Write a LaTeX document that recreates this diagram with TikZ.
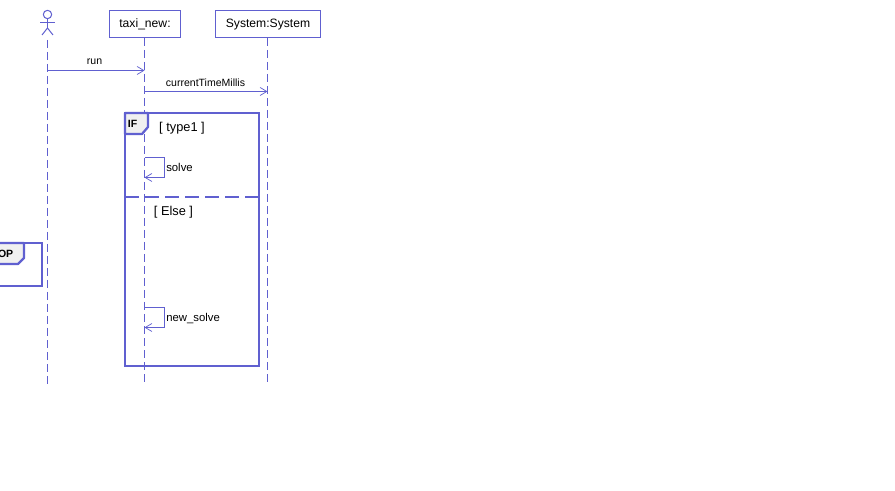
\documentclass[tikz,border=0pt]{standalone}
\usepackage{fontspec}
\setmainfont{Liberation Sans}
\usetikzlibrary{arrows.meta}
\definecolor{umlblue}{HTML}{6060D0}
\definecolor{tabfill}{HTML}{F0F0F0}
\tikzset{
  x=0.75pt,y=-0.75pt,
  lifebox/.style={draw=umlblue,line width=0.8pt,fill=white,inner sep=0pt,text=black,text height=6.8pt,text depth=2pt,font=\fontsize{9.1}{11}\selectfont},
  lifeline/.style={draw=umlblue,line width=1.1pt,dash pattern=on 6pt off 3pt},
  msg/.style={draw=umlblue,line width=0.8pt,-{Straight Barb[length=5pt,width=6pt,line width=0.55pt]}},
  msglabel/.style={inner sep=0pt,text=black,font=\fontsize{7.9}{10}\selectfont},
  selflabel/.style={inner sep=0pt,text=black,text height=6.2pt,text depth=1.8pt,font=\fontsize{8.5}{10}\selectfont},
  frameline/.style={draw=umlblue,line width=1.85pt},
  tabshape/.style={draw=umlblue,line width=1.7pt,fill=tabfill,line join=bevel},
  framelabel/.style={inner sep=0pt,text=black,font=\bfseries\fontsize{7.9}{10}\selectfont},
  guard/.style={inner sep=0pt,text=black,font=\fontsize{9.6}{11}\selectfont},
  actorline/.style={draw=umlblue,line width=0.75pt}
}
\begin{document}
\begin{tikzpicture}
\useasboundingbox (0,0) rectangle (895,491);
\clip (0,0) rectangle (895,491);
\fill[white] (0,0) rectangle (895,491);
% lifeline heads
\node[lifebox,minimum width=53pt,minimum height=20.25pt] (taxi) at (145,24) {taxi\_new:};
\node[lifebox,minimum width=78.75pt,minimum height=20.25pt] (system) at (268,24) {System:System};
% actor
\coordinate (actorfoot) at (47.3,40);
\node[circle,actorline,minimum size=6.3pt,inner sep=0pt] (head) at (47.5,14.5) {};
\draw[actorline] (head.south) -- (47.5,28) coordinate (hip);
\draw[actorline] (40,22.5) -- (55,22.5);
\draw[actorline] (42,35) -- (hip) -- (53,35);
% lifelines
\coordinate (actorend) at (47.3,385);
\coordinate (taxiend) at (144.5,383);
\coordinate (sysend) at (267.3,383);
\draw[lifeline] (actorfoot) -- (actorend);
\draw[lifeline] (144.5,38) -- (taxiend);
\draw[lifeline] (267.3,38) -- (sysend);
% messages
\coordinate (runA) at (47.5,70.5);
\coordinate (runB) at (144.5,70.5);
\coordinate (ctmA) at (144.5,91.5);
\coordinate (ctmB) at (267.5,91.5);
\draw[msg] (runA) -- (runB);
\node[msglabel] (runlabel) at (94.5,62) {run};
\draw[msg] (ctmA) -- (ctmB);
\node[msglabel] (ctmlabel) at (205.5,83) {currentTimeMillis};
% IF frame
\draw[frameline] (125,113) rectangle (259,366);
\draw[tabshape] (125,113) -- (148,113) -- (148,127) -- (142,134) -- (125,134) -- cycle;
\node[framelabel] (iflabel) at (132.5,123.5) {IF};
\node[guard] (g1) at (182,128) {[ type1 ]};
\draw[frameline,dash pattern=on 10.5pt off 4.5pt] (125,197) -- (259,197);
\node[guard] (g2) at (173.5,212) {[ Else ]};
% self messages
\coordinate (s1) at (144.5,157.5);
\coordinate (s2) at (144.5,177.5);
\draw[msg] (s1) -- (164.5,157.5) -- (164.5,177.5) -- (s2);
\node[selflabel,anchor=west] (solve) at (166,168.5) {solve};
\coordinate (n1) at (144.5,307.5);
\coordinate (n2) at (144.5,327.5);
\draw[msg] (n1) -- (164.5,307.5) -- (164.5,327.5) -- (n2);
\node[selflabel,anchor=west] (newsolve) at (166,318.5) {new\_solve};
% clipped LOOP frame
\draw[frameline] (-60,243) rectangle (42,286);
\draw[tabshape] (-60,243) -- (24,243) -- (24,258) -- (18,264) -- (-60,264) -- cycle;
\node[framelabel,anchor=east] (looplabel) at (13.5,253.5) {OP};
\end{tikzpicture}
\end{document}
